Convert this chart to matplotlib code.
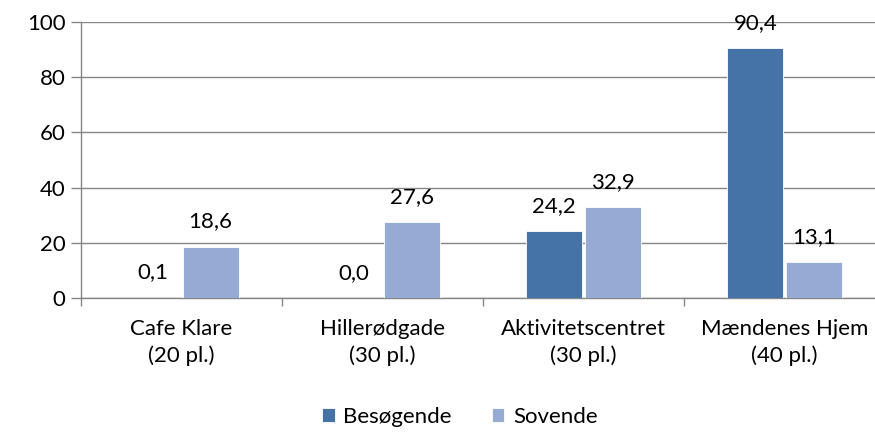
import numpy as np
import matplotlib.pyplot as plt

categories = ["Cafe Klare\n(20 pl.)", "Hillerødgade\n(30 pl.)",
              "Aktivitetscentret\n(30 pl.)", "Mændenes Hjem\n(40 pl.)"]
besoegende = [0.1, 0.0, 24.2, 90.4]
sovende = [18.6, 27.6, 32.9, 13.1]
series_names = ["Besøgende", "Sovende"]
yticks = [0, 20, 40, 60, 80, 100]

dark = "#4572A7"
light = "#95ABD3"
grid_c = "#868686"

plt.rcParams['font.family'] = ['Lato', 'DejaVu Sans']
fs = 16

fig = plt.figure(figsize=(8.75, 4.32), dpi=100)
ax = fig.add_axes([81 / 875, 134 / 432, 804 / 875, 276 / 432])

x = np.arange(len(categories)) + 0.5
w = 0.28
gap = 0.005
b1 = ax.bar(x - w / 2 - gap, besoegende, w, color=dark, label=series_names[0],
            edgecolor="white", linewidth=0.6, zorder=3)
b2 = ax.bar(x + w / 2 + gap, sovende, w, color=light, label=series_names[1],
            edgecolor="white", linewidth=0.6, zorder=3)

def fmt(v):
    return f"{v:.1f}".replace(".", ",")

for bars, vals in ((b1, besoegende), (b2, sovende)):
    for r, v in zip(bars, vals):
        ax.text(r.get_x() + r.get_width() / 2, v + 5.5, fmt(v),
                ha="center", va="bottom", fontsize=fs, color="black")

ax.set_xlim(0, 4)
ax.set_ylim(0, 100)
ax.set_yticks(yticks)
ax.set_yticklabels([str(t) for t in yticks], fontsize=fs)
ax.yaxis.grid(True, color=grid_c, linewidth=1.0, zorder=0)
ax.set_axisbelow(True)

ax.set_xticks(np.arange(0, 5))
ax.set_xticklabels([])
ax.tick_params(axis="x", length=6, color=grid_c, width=1)
ax.tick_params(axis="y", length=7, color=grid_c, width=1, pad=4)
for i, lab in enumerate(categories):
    ax.text(x[i], -7.5, lab, ha="center", va="top", fontsize=fs,
            linespacing=1.42, transform=ax.transData)

for s in ["top", "right"]:
    ax.spines[s].set_visible(False)
for s in ["left", "bottom"]:
    ax.spines[s].set_color(grid_c)
    ax.spines[s].set_linewidth(1)

fig.legend(handles=[b1, b2], labels=series_names, loc="center",
           bbox_to_anchor=(460 / 875, 1 - 417 / 432), ncol=2, frameon=False,
           fontsize=fs, handlelength=0.55, handleheight=0.55,
           handletextpad=0.4, columnspacing=1.8)

fig.savefig("out.png", dpi=100)
